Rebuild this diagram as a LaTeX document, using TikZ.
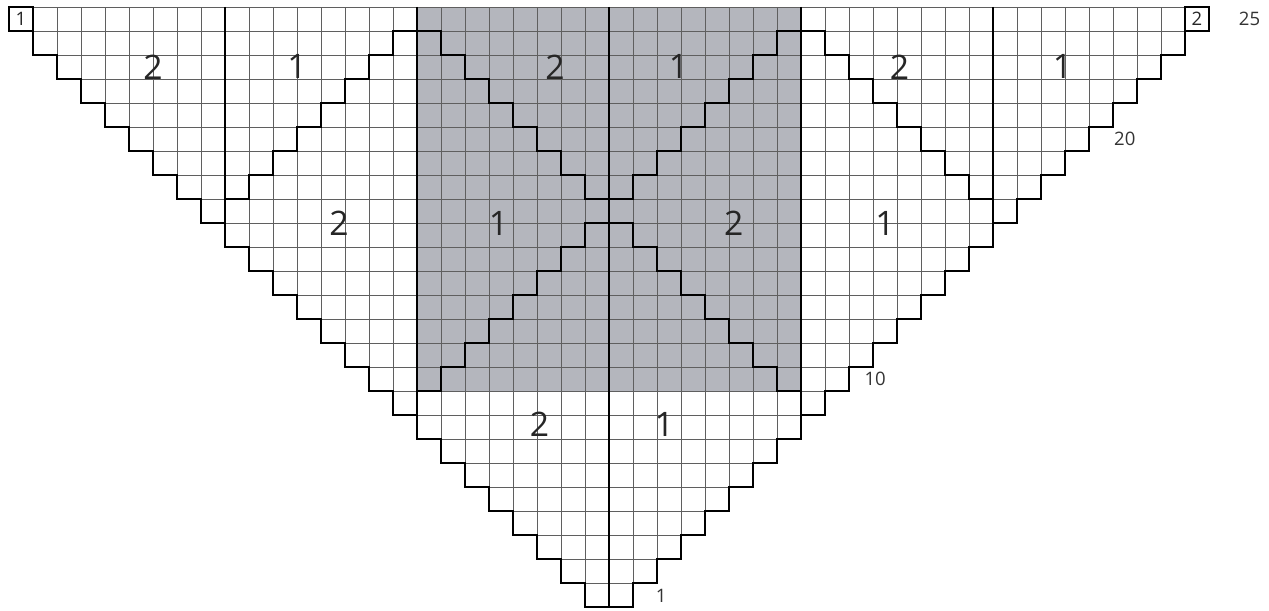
\documentclass[tikz,border=0pt]{standalone}
\usepackage{fontspec}
\setmainfont{Open Sans}
\usepackage{xcolor}
\usepackage{tikz}
\definecolor{GrisCentro}{RGB}{180,182,189}
\definecolor{GrisMalla}{RGB}{95,95,95}

\begin{document}
\begin{tikzpicture}[x=0.5cm,y=0.5cm,
  malla/.style={line width=0.5pt,GrisMalla},
  borde/.style={line width=1.3pt,black,line join=miter},
  zona/.style={font=\fontsize{20}{24}\selectfont,text=black!85},
  fila/.style={font=\fontsize{11}{13}\selectfont,text=black!80,anchor=west},
  esquina/.style={font=\fontsize{11}{13}\selectfont,text=black!85}]
  \useasboundingbox (-25.375,-0.167) rectangle (27.5,25.29);

  % centre panel
  \fill[GrisCentro] (-8,9) rectangle (8,25);

  % grid, row by row
  \foreach \r in {1,...,25}{
    \pgfmathtruncatemacro{\ci}{-\r}
    \pgfmathtruncatemacro{\cf}{\r-1}
    \foreach \c in {\ci,...,\cf}
      \draw[malla] (\c,\r-1) rectangle ++(1,1);
  }

  % outline
  \draw[borde] (-25,25) \foreach \r in {25,...,2}{ -- (-\r,\r-1) -- (-\r+1,\r-1)}
    -- (-1,0) -- (1,0) \foreach \r in {1,...,24}{ -- (\r,\r) -- (\r+1,\r)} -- (25,25);
  \draw[borde] (-25,24) rectangle (-24,25);
  \draw[borde] (24,24) rectangle (25,25);

  % panel dividers
  \draw[borde] (-16,25) -- (-16,16);
  \draw[borde] (-8,25) -- (-8,8);
  \draw[borde] (0,25) -- (0,0);
  \draw[borde] (8,25) -- (8,8);
  \draw[borde] (16,25) -- (16,16);

  % upper zigzag
  \draw[borde] (-16,17) \foreach \k in {0,...,6}{ -- (-15+\k,17+\k) -- (-15+\k,18+\k)}
    -- (-8,24) \foreach \k in {0,...,6}{ -- (-7+\k,24-\k) -- (-7+\k,23-\k)}
    -- (1,17) \foreach \k in {0,...,6}{ -- (1+\k,18+\k) -- (2+\k,18+\k)}
    \foreach \k in {0,...,6}{ -- (9+\k,24-\k) -- (9+\k,23-\k)} -- (16,17);

  % lower half of the X
  \draw[borde] (-8,9) \foreach \k in {0,...,6}{ -- (-7+\k,9+\k) -- (-7+\k,10+\k)}
    -- (1,16) \foreach \k in {0,...,6}{ -- (1+\k,15-\k) -- (2+\k,15-\k)};

  % colour numbers
  \node[esquina] (c1) at (-24.5,24.5) {1};
  \node[esquina] (c2) at (24.5,24.5) {2};
  \node[zona] (z1) at (-19,22.5) {2};
  \node[zona] (z2) at (-13,22.5) {1};
  \node[zona] (z3) at (-2.25,22.5) {2};
  \node[zona] (z4) at (2.9,22.5) {1};
  \node[zona] (z5) at (12.1,22.5) {2};
  \node[zona] (z6) at (18.9,22.5) {1};
  \node[zona] (z7) at (-11.25,16) {2};
  \node[zona] (z8) at (-4.6,16) {1};
  \node[zona] (z9) at (5.2,16) {2};
  \node[zona] (z10) at (11.5,16) {1};
  \node[zona] (z11) at (-2.9,7.6) {2};
  \node[zona] (z12) at (2.3,7.6) {1};

  % row numbers
  \node[fila] (f25) at (26.0,24.5) {25};
  \node[fila] (f20) at (20.8,19.5) {20};
  \node[fila] (f10) at (10.4,9.5) {10};
  \node[fila] (f1) at (1.7,0.45) {1};
\end{tikzpicture}
\end{document}
